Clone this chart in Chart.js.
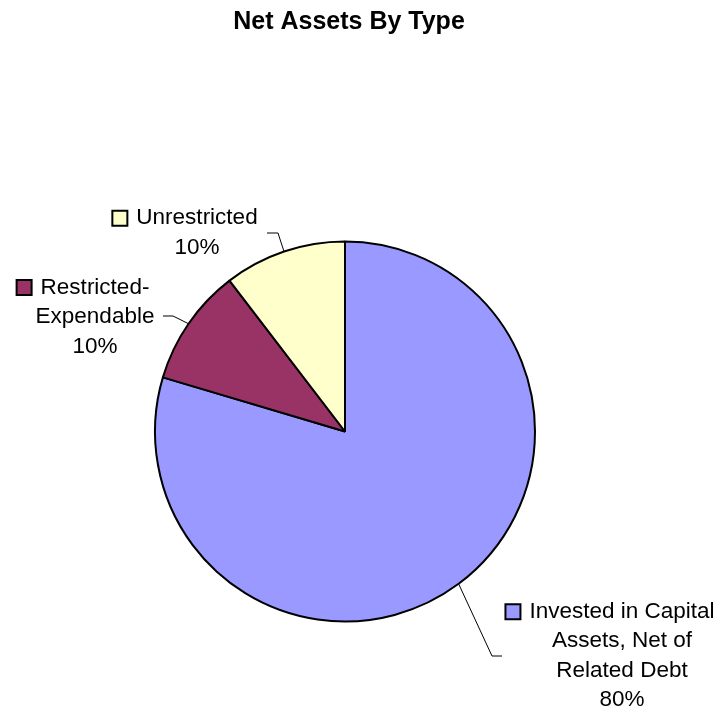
<!DOCTYPE html>
<html>
<head>
<meta charset="utf-8">
<script src="https://cdn.jsdelivr.net/npm/chart.js@4.4.1/dist/chart.umd.min.js"></script>
<style>
  html, body { margin: 0; padding: 0; background: #fff; }
  canvas { display: block; }
</style>
</head>
<body>
<canvas id="pie" width="720" height="709"></canvas>
<script>
  // data
  const categories = ['Invested in Capital Assets, Net of Related Debt', 'Restricted-Expendable', 'Unrestricted'];
  const values = [79.6, 10.0, 10.4];
  const sliceColors = ['#9999FF', '#993366', '#FFFFCC'];
  const labelLines = [
    ['Invested in Capital', 'Assets, Net of', 'Related Debt'],
    ['Restricted-', 'Expendable'],
    ['Unrestricted']
  ];

  const FONT = '"Liberation Sans", Arial, sans-serif';

  // where each label block and its leader sit
  const labelSpots = [
    { cx: 622, cy: 656, elbow: [492, 656], end: [502, 656] },
    { cx: 95,  cy: 317, elbow: [173, 316], end: [163, 316] },
    { cx: 197, cy: 233, elbow: [278, 233], end: [267, 233] }
  ];

  const titlePlugin = {
    id: 'plainTitle',
    afterDraw(chart) {
      const ctx = chart.ctx;
      ctx.save();
      ctx.fillStyle = '#000';
      ctx.font = 'bold 25px ' + FONT;
      ctx.textAlign = 'center';
      ctx.textBaseline = 'middle';
      ctx.fillText('Net Assets By Type', 349, 22);
      ctx.restore();
    }
  };

  const labelPlugin = {
    id: 'sliceLabels',
    afterDraw(chart) {
      const ctx = chart.ctx;
      const meta = chart.getDatasetMeta(0);
      const total = values.reduce((a, b) => a + b, 0);
      ctx.save();
      meta.data.forEach((arc, i) => {
        const p = arc.getProps(['x', 'y', 'startAngle', 'endAngle', 'outerRadius'], true);
        const mid = (p.startAngle + p.endAngle) / 2;
        const sx = p.x + Math.cos(mid) * p.outerRadius;
        const sy = p.y + Math.sin(mid) * p.outerRadius;
        const spot = labelSpots[i];

        // leader line
        ctx.strokeStyle = '#000';
        ctx.lineWidth = 1;
        ctx.beginPath();
        ctx.moveTo(sx, sy);
        ctx.lineTo(spot.elbow[0], spot.elbow[1]);
        ctx.lineTo(spot.end[0], spot.end[1]);
        ctx.stroke();

        // text lines
        const lines = labelLines[i].concat([Math.round(values[i] / total * 100) + '%']);
        const lh = 29.5;
        const top = spot.cy - (lines.length - 1) * lh / 2;
        ctx.font = '22.5px ' + FONT;
        ctx.fillStyle = '#000';
        ctx.textAlign = 'center';
        ctx.textBaseline = 'middle';
        lines.forEach((t, k) => ctx.fillText(t, spot.cx, top + k * lh));

        // legend key left of the first line
        const w = ctx.measureText(lines[0]).width;
        const kx = spot.cx - w / 2 - 9 - 15;
        const ky = top - 7.5;
        ctx.fillStyle = sliceColors[i];
        ctx.fillRect(kx, ky, 15, 15);
        ctx.lineWidth = 2;
        ctx.strokeRect(kx, ky, 15, 15);
      });
      ctx.restore();
    }
  };

  new Chart(document.getElementById('pie'), {
    type: 'pie',
    data: {
      labels: categories,
      datasets: [{
        data: values,
        backgroundColor: sliceColors,
        borderColor: '#000',
        borderWidth: 2,
        borderAlign: 'center'
      }]
    },
    options: {
      responsive: false,
      animation: false,
      devicePixelRatio: 1,
      layout: { padding: { left: 154, right: 184, top: 240, bottom: 86 } },
      plugins: {
        legend: { display: false },
        title: { display: false },
        tooltip: { enabled: false }
      }
    },
    plugins: [titlePlugin, labelPlugin]
  });
</script>
</body>
</html>
